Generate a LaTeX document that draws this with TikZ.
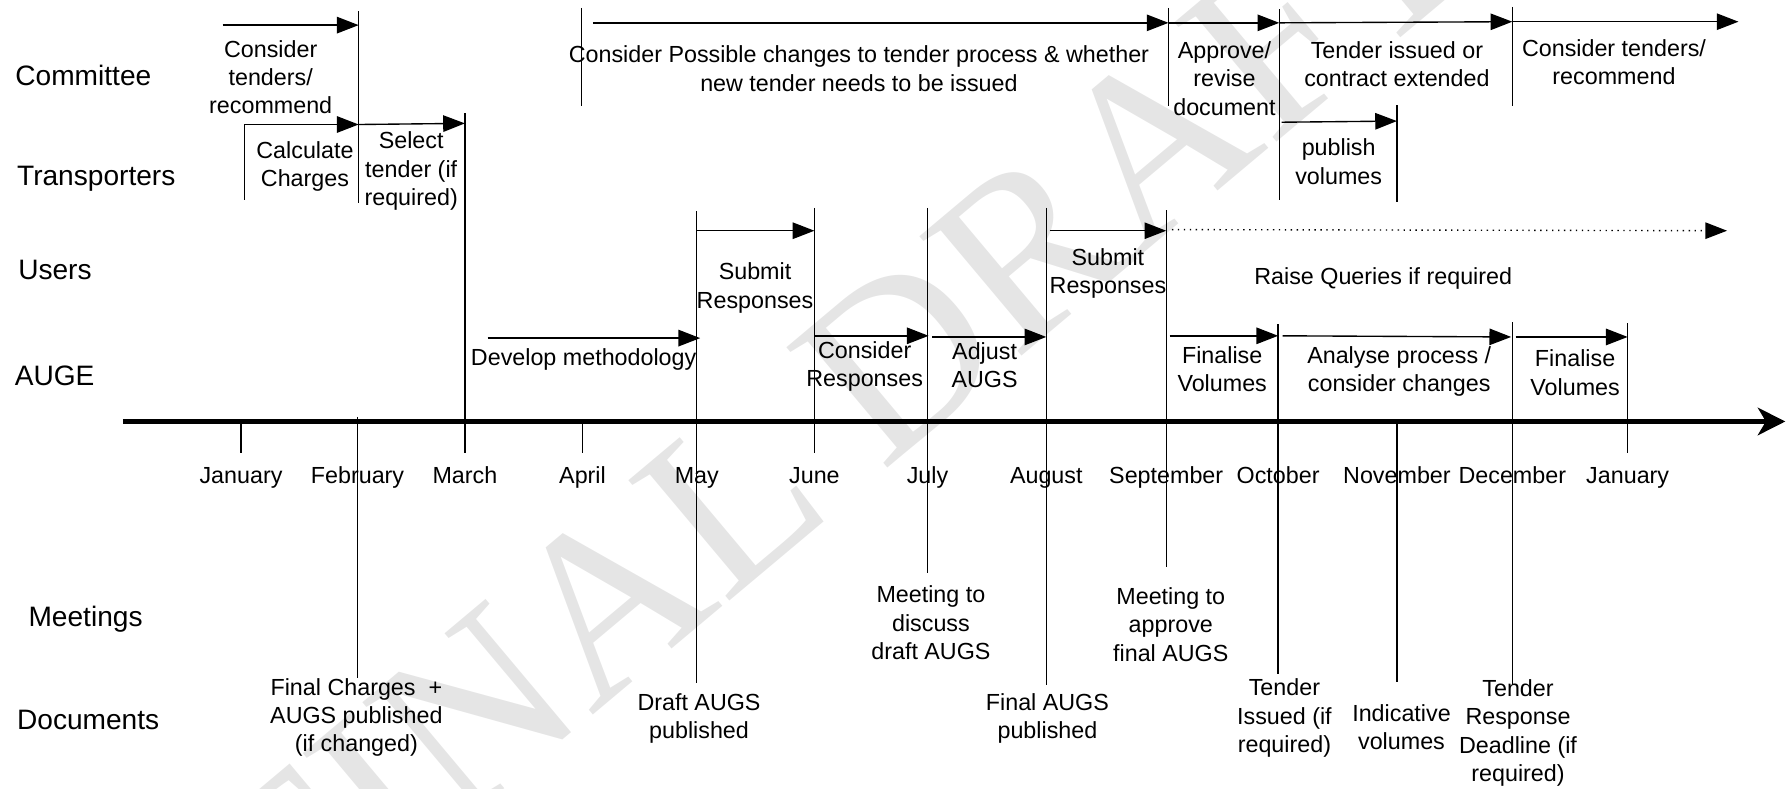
\documentclass[tikz,border=0pt]{standalone}
\usepackage{fontspec}
\setmainfont{Liberation Sans}
\newfontfamily\wmfont{Liberation Serif}
\usetikzlibrary{arrows.meta}
\begin{document}
\begin{tikzpicture}[x=0.5pt,y=-0.5pt,
  every node/.style={inner sep=0pt, outer sep=0pt},
  txt/.style={font=\fontsize{10.2}{12.4}\selectfont, align=center,
    execute at begin node=\strut, execute at end node=\strut},
  lane/.style={font=\fontsize{12.3}{14}\selectfont, anchor=west,
    execute at begin node=\strut},
  vl/.style={line width=0.6pt},
  arr/.style={line width=0.6pt, -{Triangle[length=9.5pt,width=7.2pt]}},
  dotarr/.style={line width=0.6pt, dotted, -{Triangle[length=9.5pt,width=7.2pt]}},
  axis/.style={line width=2.6pt, -{Stealth[length=12pt,width=12pt,inset=3.5pt]}},
  wm/.style={text=gray!20, font=\wmfont\fontsize{105}{105}\selectfont}
]
\useasboundingbox (0,0) rectangle (1568,690);
% watermark
\begin{scope}
\clip (0,0) rectangle (1568,690);
\node[wm, rotate=40] (watermark) at (735,355) {FINAL DRAFT};
\end{scope}
% lane labels
\node[lane] (lCom) at (13.5,69) {Committee};
\node[lane] (lTra) at (15,157) {Transporters};
\node[lane] (lUse) at (16,239.5) {Users};
\node[lane] (lAug) at (13,331.5) {AUGE};
\node[lane] (lMee) at (25,543) {Meetings};
\node[lane] (lDoc) at (15,633.5) {Documents};
% axis
\coordinate (axS) at (107.5,369);
\coordinate (axE) at (1563,369);
\draw[axis] (axS) -- (axE);
% month labels
\foreach \x/\m/\n in {211/January/m1,313/February/m2,407/March/m3,510/April/m4,610/May/m5,713/June/m6,812/July/m7,916/August/m8,1021/September/m9,1119/October/m10,1223/November/m11,1324/December/m12,1425/January/m13}
  \node[txt] (\n) at (\x,418.3) {\m};
% vertical lines
\draw[vl] (211,371) -- (211,397);
\draw[vl] (313,365) -- (313,594);
\draw[vl] (314,10) -- (314,178);
\draw[vl] (214,109) -- (214,175);
\draw[vl] (407,99) -- (407,397);
\draw[vl] (510,371) -- (510,397);
\draw[vl] (509,7) -- (509,93);
\draw[vl] (610,185) -- (610,598);
\draw[vl] (713,182) -- (713,397);
\draw[vl] (812,182) -- (812,502);
\draw[vl] (916,182) -- (916,600);
\draw[vl] (1021,184) -- (1021,496);
\draw[vl] (1023,7) -- (1023,93);
\draw[vl] (1120,8) -- (1120,175);
\draw[vl] (1119,284) -- (1119,590);
\draw[vl] (1223,92) -- (1223,177);
\draw[vl] (1223,370) -- (1223,597);
\draw[vl] (1324,6) -- (1324,93);
\draw[vl] (1324,282) -- (1324,600);
\draw[vl] (1425,283) -- (1425,397);
% committee arrows
\draw[arr] (195,22) -- (314,22);
\draw[arr] (519,20) -- (1023,20);
\draw[arr] (1023,20) -- (1120,20);
\draw[arr] (1120,20) -- (1324,19);
\draw[arr] (1324,19) -- (1522,19);
% transporters arrows
\draw[arr] (214,109) -- (314,109);
\draw[arr] (314,109) -- (407,108);
\draw[arr] (1122,107) -- (1223,106);
% users arrows
\draw[arr] (610,202) -- (713,202);
\draw[arr] (919,202) -- (1021,202);
\draw[dotarr] (1026,201) -- (1512,202);
% AUGE arrows
\draw[arr] (427,296) -- (613,296);
\draw[arr] (713,294) -- (813,294);
\draw[arr] (816,295) -- (916,295);
\draw[arr] (1024,294) -- (1119,294);
\draw[arr] (1123,294) -- (1323,295);
\draw[arr] (1327,295) -- (1425,295);
% committee texts
\node[txt] (ct1) at (237,71.3) {Consider\\tenders/\\recommend};
\node[txt] (cp) at (752,63.8) {Consider Possible changes to tender process \& whether\\new tender needs to be issued};
\node[txt] (ap) at (1072,72.3) {Approve/\\revise\\document};
\node[txt] (ti) at (1223,59.8) {Tender issued or\\contract extended};
\node[txt] (ct2) at (1413,57.8) {Consider tenders/\\recommend};
% transporters texts
\node[txt] (cc) at (267,147.3) {Calculate\\Charges};
\node[txt] (st) at (360,151.3) {Select\\tender (if\\required)};
\node[txt] (pv) at (1172,145.3) {publish\\volumes};
% users texts
\node[txt] (sr1) at (661,253.8) {Submit\\Responses};
\node[txt] (sr2) at (970,240.8) {Submit\\Responses};
\node[txt] (rq) at (1211,243.9) {Raise Queries if required};
% AUGE texts
\node[txt] (dm) at (511,315.3) {Develop methodology};
\node[txt] (cr) at (757,322.3) {Consider\\Responses};
\node[txt] (aa) at (862,323.3) {Adjust\\AUGS};
\node[txt] (fv1) at (1070,327) {Finalise\\Volumes};
\node[txt] (anp) at (1225,326.7) {Analyse process /\\consider changes};
\node[txt] (fv2) at (1379,329.9) {Finalise\\Volumes};
% meetings
\node[txt] (md) at (815,548.8) {Meeting to\\discuss\\draft AUGS};
\node[txt] (ma) at (1025,550.3) {Meeting to\\approve\\final AUGS};
% documents
\node[txt] (fc) at (312,629.7) {Final Charges~~+\\AUGS published\\(if changed)};
\node[txt] (da) at (612,630.5) {Draft AUGS\\published};
\node[txt] (fa) at (917,630.5) {Final AUGS\\published};
\node[txt] (tis) at (1124.5,630.3) {Tender\\Issued (if\\required)};
\node[txt] (iv) at (1227,640.3) {Indicative\\volumes};
\node[txt] (trd) at (1329,643.3) {Tender\\Response\\Deadline (if\\required)};
\end{tikzpicture}
\end{document}
